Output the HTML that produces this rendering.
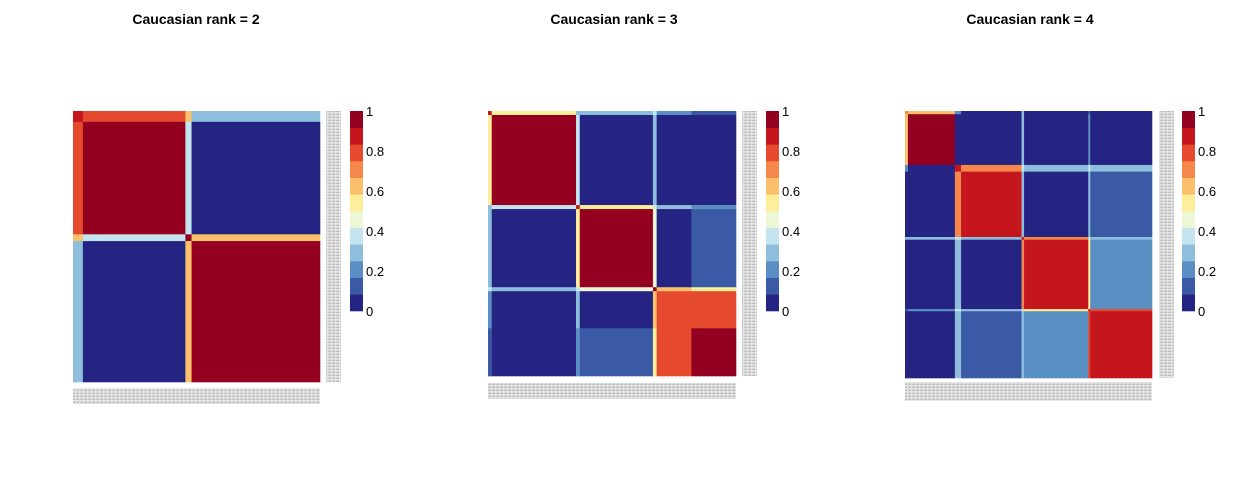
<!DOCTYPE html>
<html><head><meta charset="utf-8">
<style>
html,body{margin:0;padding:0;background:#fff;}
svg{display:block;font-family:"Liberation Sans",Arial,sans-serif;}
</style></head>
<body>
<svg id="chart" width="1248" height="480" viewBox="0 0 1248 480" xmlns="http://www.w3.org/2000/svg">
<defs>
<pattern id="lbl" width="4" height="3" patternUnits="userSpaceOnUse">
<rect width="4" height="3" fill="#e4e4e4"/>
<rect width="3" height="1" fill="#bdbdbd"/>
<rect x="1" y="2" width="2" height="1" fill="#cfcfcf"/>
</pattern>
</defs>
</svg>
<script>
// colour bins (0 → 1)
const binColors = ['#262483','#3A5AA6','#5A8FC3','#8DBFDC','#C4E4EF','#EDF7D6','#FDEE99','#FBC06A','#F6874A','#E64A2E','#C4161C','#940020'];
const legendTicks = ['0','0.2','0.4','0.6','0.8','1'];
const panelTitles = ['Caucasian rank = 2','Caucasian rank = 3','Caucasian rank = 4'];

// panel 1 groups: edge, A, stripe, B
const sizes1 = [4, 41.5, 2.5, 52];
const values1 = [
 [0.9, 0.78, 0.6, 0.25],
 [0.78, 1.0, 0.35, 0.02],
 [0.6, 0.35, 1.0, 0.62],
 [0.25, 0.02, 0.62, 1.0]
];
// panel 2 groups: e0, A, e1, B, e2, C1, C2
const sizes2 = [1.5, 34, 1.5, 29.5, 1.5, 14, 18];
const values2 = [
 [0.9, 0.55, 0.3, 0.3, 0.4, 0.2, 0.1],
 [0.55, 0.93, 0.4, 0.03, 0.3, 0.04, 0.03],
 [0.3, 0.4, 0.9, 0.5, 0.4, 0.3, 0.2],
 [0.3, 0.03, 0.5, 0.93, 0.45, 0.06, 0.12],
 [0.4, 0.3, 0.4, 0.45, 1.0, 0.6, 0.55],
 [0.2, 0.04, 0.3, 0.06, 0.6, 0.8, 0.78],
 [0.1, 0.03, 0.2, 0.12, 0.55, 0.78, 0.95]
];
// panel 3 groups: eA, A, eB, B, eC, C, eD, D
const sizes3 = [1.2, 19, 2.5, 24.5, 1, 26, 0.8, 25];
const values3 = [
 [0.7, 0.65, 0.2, 0.03, 0.3, 0.02, 0.1, 0.02],
 [0.65, 1.0, 0.05, 0.02, 0.3, 0.02, 0.2, 0.02],
 [0.2, 0.05, 0.9, 0.68, 0.4, 0.25, 0.4, 0.3],
 [0.03, 0.02, 0.68, 0.9, 0.3, 0.07, 0.3, 0.1],
 [0.3, 0.3, 0.4, 0.3, 0.9, 0.7, 0.4, 0.3],
 [0.02, 0.02, 0.25, 0.07, 0.7, 0.9, 0.5, 0.22],
 [0.1, 0.2, 0.4, 0.3, 0.4, 0.5, 0.9, 0.75],
 [0.02, 0.02, 0.3, 0.1, 0.3, 0.22, 0.75, 0.88]
];

const svg = document.getElementById('chart');
const NS = 'http://www.w3.org/2000/svg';
function mk(tag, attrs){const e=document.createElementNS(NS,tag);for(const k in attrs)e.setAttribute(k,attrs[k]);return e;}
function colorOf(v){let i=Math.floor(v*binColors.length);if(i>=binColors.length)i=binColors.length-1;if(i<0)i=0;return binColors[i];}

const layouts = [
 {x:73,y:111,w:247,h:271,lx:326,lw:15,by:388,bh:16,gx:350,tx:196,sizes:sizes1,vals:values1},
 {x:488,y:111,w:248,h:265,lx:742,lw:15,by:383,bh:16,gx:766,tx:614,sizes:sizes2,vals:values2},
 {x:905,y:111,w:247,h:267,lx:1159,lw:15,by:382,bh:19,gx:1182,tx:1030,sizes:sizes3,vals:values3}
];

layouts.forEach((L,p)=>{
 const g = mk('g',{});
 
 
 svg.appendChild(g);
 const t = mk('text',{x:L.tx,y:24,'text-anchor':'middle','font-size':14,'font-weight':'bold',fill:'#000'});
 t.textContent = panelTitles[p];
 
 
 g.appendChild(t);
 const tot = L.sizes.reduce((a,b)=>a+b,0);
 const sx = v=>L.x+v/tot*L.w, sy = v=>L.y+v/tot*L.h;
 let acc=[0];L.sizes.forEach(s=>acc.push(acc[acc.length-1]+s));
 for(let i=0;i<L.sizes.length;i++){
  for(let j=0;j<L.sizes.length;j++){
   const r = mk('rect',{x:sx(acc[j]),y:sy(acc[i]),width:sx(acc[j+1])-sx(acc[j])+0.3,height:sy(acc[i+1])-sy(acc[i])+0.3,fill:colorOf(L.vals[i][j])});
   
   
   g.appendChild(r);
  }
 }
 const rl = mk('rect',{x:L.lx,y:L.y,width:L.lw,height:L.h,fill:'url(#lbl)'});
 
 
 g.appendChild(rl);
 const cl = mk('rect',{x:L.x,y:L.by,width:L.w,height:L.bh,fill:'url(#lbl)'});
 
 
 g.appendChild(cl);
 const lg = mk('g',{});
 
 
 g.appendChild(lg);
 const bh = 200/binColors.length;
 binColors.forEach((c,k)=>{
  const r = mk('rect',{x:L.gx,y:311-(k+1)*bh,width:13,height:bh+0.3,fill:c});
  
  
  lg.appendChild(r);
 });
 legendTicks.forEach((s,k)=>{
  const tt = mk('text',{x:L.gx+16,y:311-k*40+5,'font-size':13,fill:'#000'});
  tt.textContent = s;
  
  
  lg.appendChild(tt);
 });
});
</script>
</body></html>
